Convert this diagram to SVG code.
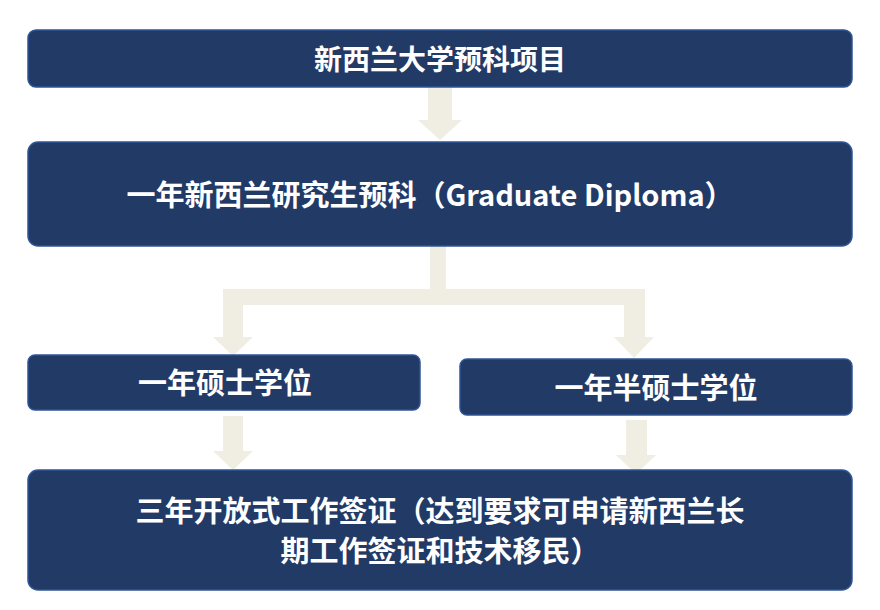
<svg xmlns="http://www.w3.org/2000/svg" width="880" height="610" viewBox="0 0 880 610">
<style>
.b{fill:#223a66;stroke:#2f5597;stroke-width:1.5}
.t{fill:#fff;font-family:"Noto Sans CJK SC","Liberation Sans",sans-serif;font-weight:bold;text-anchor:middle}
.a{fill:#f0ede2}
</style>
<rect width="880" height="610" fill="#fff"/>
<g id="connectors">
<polygon class="a" points="428,87 452,87 452,120 462,120 440,140 418,120 428,120"/>
<polygon class="a" points="430,246 446,246 446,289 645,289 645,337 654,337 634,358 614,337 624,337 624,305 243,305 243,337 253,337 233,356 213,337 223,337 223,289 430,289"/>
<polygon class="a" points="223,416 243,416 243,451 253,451 233,470 213,451 223,451"/>
<polygon class="a" points="626,420 647,420 647,455 656,455 636,474 616,455 626,455"/>
</g>
<g id="n1"><rect class="b" x="28" y="30" width="824" height="57" rx="8"/><text class="t" x="440" y="70" font-size="28">新西兰大学预科项目</text></g>
<g id="n2"><rect class="b" x="28" y="142" width="824" height="104" rx="10"/><text class="t" x="430" y="206" font-size="29">一年新西兰研究生预科（Graduate Diploma）</text></g>
<g id="n3"><rect class="b" x="28" y="355" width="392" height="55" rx="7"/><text class="t" x="225" y="394" font-size="29">一年硕士学位</text></g>
<g id="n4"><rect class="b" x="460" y="359" width="392" height="56" rx="7"/><text class="t" x="656" y="399" font-size="29">一年半硕士学位</text></g>
<g id="n5"><rect class="b" x="28" y="470" width="824" height="120" rx="10"/><text class="t" x="440" y="522" font-size="29">三年开放式工作签证（达到要求可申请新西兰长</text><text class="t" x="440" y="562" font-size="29">期工作签证和技术移民）</text></g>
</svg>
